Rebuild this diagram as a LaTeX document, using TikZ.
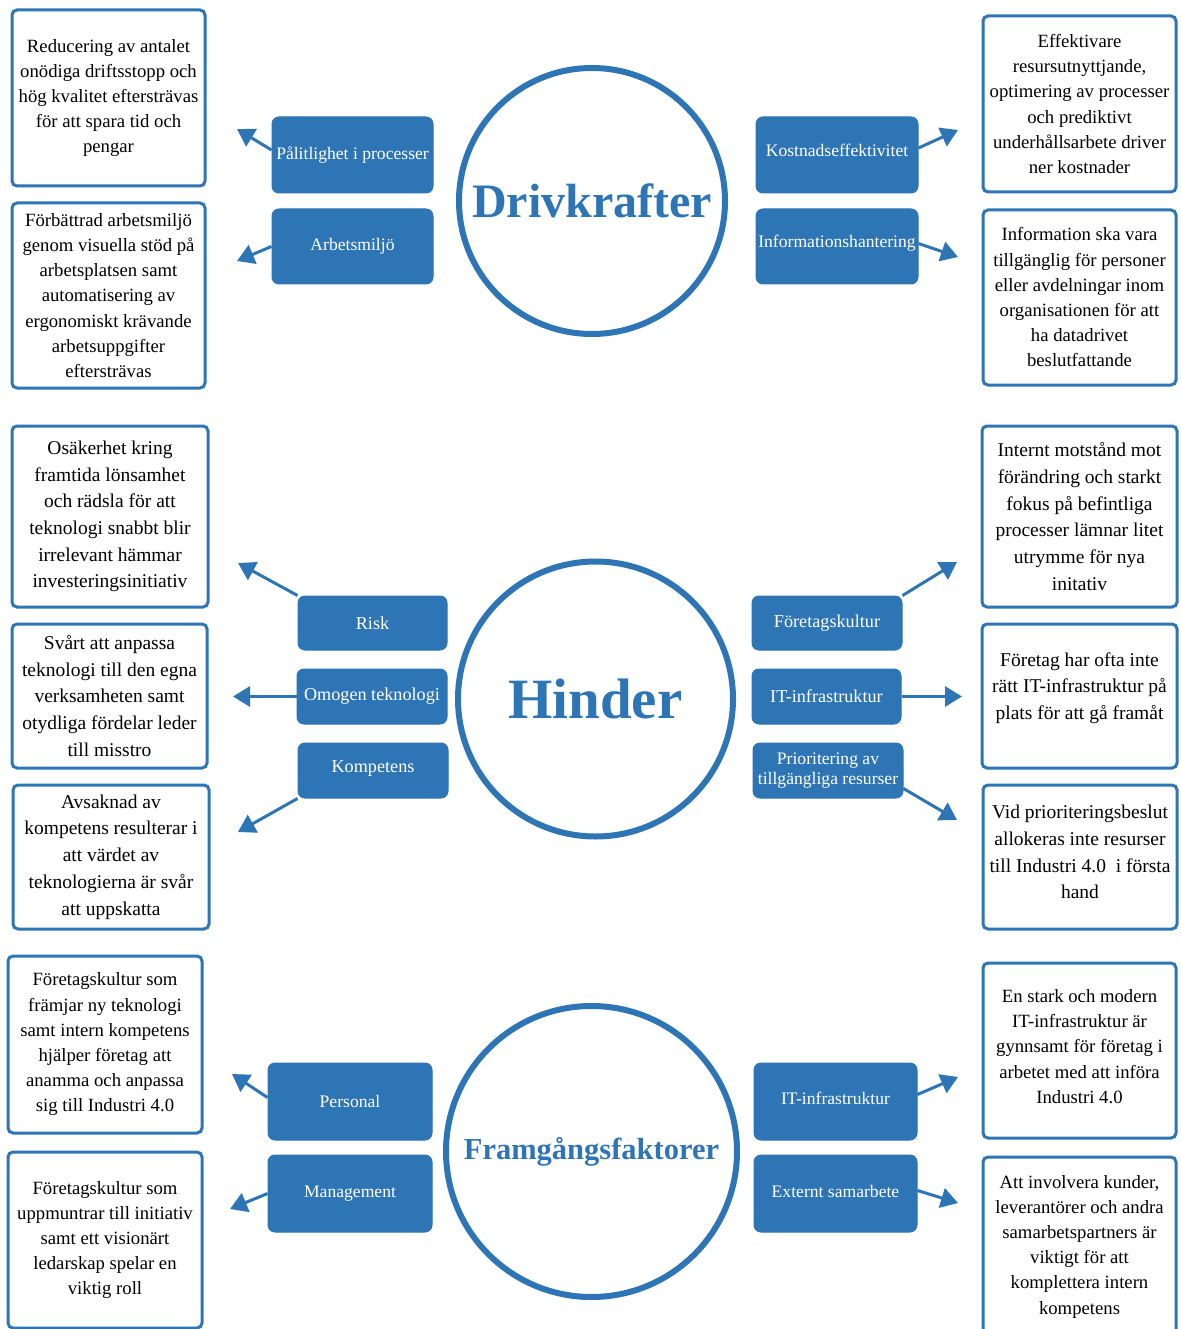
\documentclass[tikz,border=0pt]{standalone}
\usepackage{fontspec}
\setmainfont{Liberation Serif}
\usetikzlibrary{arrows.meta}
\definecolor{bl}{RGB}{46,117,182}
\tikzset{
  sz/.style 2 args={minimum width=#1pt, minimum height=#2pt},
  wbox/.style={draw=bl, line width=3pt, rounded corners=5pt, fill=white, align=center, inner sep=0pt, font=\fontsize{18.7pt}{25.2pt}\selectfont},
  wboxh/.style={wbox, font=\fontsize{19.5pt}{26.7pt}\selectfont},
  bbox/.style={fill=bl, draw=bl, line width=1pt, rounded corners=7pt, text=white, align=center, inner sep=0pt, font=\fontsize{17.6pt}{20pt}\selectfont},
  bboxh/.style={bbox, font=\fontsize{18.2pt}{20pt}\selectfont},
  hub/.style={circle, draw=bl, line width=6pt, text=bl, inner sep=0pt},
  arr/.style={draw=bl, line width=3pt, -{Triangle[length=17pt,width=20pt]}},
}
\begin{document}
\begin{tikzpicture}[x=1pt,y=-1pt]
\path[use as bounding box, fill=white] (0,0) rectangle (1180,1329);

% ---------------- Drivkrafter ----------------
\node[hub, minimum size=266pt, font=\fontsize{48pt}{50pt}\selectfont\bfseries] (drv) at (592,201) {Drivkrafter};

\node[wbox, sz={193}{176}] (d1) at (108.5,98) {Reducering av antalet\\onödiga driftsstopp och\\hög kvalitet eftersträvas\\för att spara tid och\\pengar};
\node[wbox, sz={193}{185}] (d2) at (108.5,295.5) {Förbättrad arbetsmiljö\\genom visuella stöd på\\arbetsplatsen samt\\automatisering av\\ergonomiskt krävande\\arbetsuppgifter\\eftersträvas};
\node[wbox, sz={193}{176}] (d3) at (1079.5,104) {Effektivare\\resursutnyttjande,\\optimering av processer\\och prediktivt\\underhållsarbete driver\\ner kostnader};
\node[wbox, sz={193}{175}] (d4) at (1079.5,297.5) {Information ska vara\\tillgänglig för personer\\eller avdelningar inom\\organisationen för att\\ha datadrivet\\beslutfattande};

\node[bbox, sz={161}{76}] (pal) at (352.5,155) {Pålitlighet i processer};
\node[bbox, sz={161}{75}] (arb) at (352.5,246.5) {Arbetsmiljö};
\node[bbox, sz={162}{76}, text depth=10pt] (kost) at (837,155) {Kostnadseffektivitet};
\node[bbox, sz={162}{75}, text depth=10pt] (info) at (837,246.5) {Informationshantering};

\coordinate (tpal) at (237,129);
\coordinate (tarb) at (237,261);
\coordinate (tkost) at (958,130);
\coordinate (tinfo) at (958,257);
\draw[arr] ([yshift=5pt]pal.west) -- (tpal);
\draw[arr] (arb.west) -- (tarb);
\draw[arr] ([yshift=7pt]kost.east) -- (tkost);
\draw[arr] ([yshift=3pt]info.east) -- (tinfo);

% ---------------- Hinder ----------------
\node[hub, minimum size=275pt, font=\fontsize{57pt}{60pt}\selectfont\bfseries] (hin) at (595.5,699) {Hinder};

\node[wboxh, sz={196}{181}] (h1) at (110,516.5) {Osäkerhet kring\\framtida lönsamhet\\och rädsla för att\\teknologi snabbt blir\\irrelevant hämmar\\investeringsinitiativ};
\node[wboxh, sz={195}{144}] (h2) at (109.5,696) {Svårt att anpassa\\teknologi till den egna\\verksamheten samt\\otydliga fördelar leder\\till misstro};
\node[wboxh, sz={196}{144}] (h3) at (111,857) {Avsaknad av\\kompetens resulterar i\\att värdet av\\teknologierna är svår\\att uppskatta};
\node[wboxh, sz={195}{181}] (h4) at (1079.5,516.5) {Internt motstånd mot\\förändring och starkt\\fokus på befintliga\\processer lämnar litet\\utrymme för nya\\initativ};
\node[wboxh, sz={195}{144}, text depth=20pt] (h5) at (1079.5,696) {Företag har ofta inte\\rätt IT-infrastruktur på\\plats för att gå framåt};
\node[wboxh, sz={194}{144}, text depth=10pt] (h6) at (1080,857) {Vid prioriteringsbeslut\\allokeras inte resurser\\till Industri 4.0\ \ i första\\hand};

\node[bboxh, sz={149}{54}] (risk) at (372.5,623) {Risk};
\node[bboxh, sz={150}{55}] (omog) at (372,696.5) {Omogen teknologi};
\node[bboxh, sz={150}{55}, text depth=8pt] (komp) at (373,770.5) {Kompetens};
\node[bboxh, sz={150}{54}] (fore) at (827,623) {Företagskultur};
\node[bboxh, sz={149}{55}] (itinf) at (826.5,696.5) {IT-infrastruktur};
\node[bboxh, sz={150}{55}, font=\fontsize{17.6pt}{20pt}\selectfont] (prio) at (828,770.5) {Prioritering av\\tillgängliga resurser};

\coordinate (trisk) at (238,563);
\coordinate (tomog) at (233,696.5);
\coordinate (tkomp) at (238,832);
\coordinate (tfore) at (957,562);
\coordinate (titinf) at (962,696.5);
\coordinate (tprio) at (957,820);
\draw[arr] (risk.north west) -- (trisk);
\draw[arr] (omog.west) -- (tomog);
\draw[arr] (komp.south west) -- (tkomp);
\draw[arr] (fore.north east) -- (tfore);
\draw[arr] (itinf.east) -- (titinf);
\draw[arr] ([yshift=10pt]prio.south east) -- (tprio);

% ---------------- Framgångsfaktorer ----------------
\node[hub, minimum size=291pt, font=\fontsize{30.5pt}{32pt}\selectfont\bfseries] (frm) at (591.5,1151.5) {Framgångsfaktorer};

\node[wbox, sz={194}{177}] (f1) at (105,1044.5) {Företagskultur som\\främjar ny teknologi\\samt intern kompetens\\hjälper företag att\\anamma och anpassa\\sig till Industri 4.0};
\node[wbox, sz={194}{176}] (f2) at (105,1240) {Företagskultur som\\uppmuntrar till initiativ\\samt ett visionärt\\ledarskap spelar en\\viktig roll};
\node[wbox, sz={193}{175}, text depth=8pt] (f3) at (1079.5,1050.5) {En stark och modern\\IT-infrastruktur är\\gynnsamt för företag i\\arbetet med att införa\\Industri 4.0};
\node[wbox, sz={193}{179}] (f4) at (1079.5,1246.5) {Att involvera kunder,\\leverantörer och andra\\samarbetspartners är\\viktigt för att\\komplettera intern\\kompetens};

\node[bbox, sz={164}{77}] (pers) at (350,1101.5) {Personal};
\node[bbox, sz={164}{77}] (mgmt) at (350,1193.5) {Management};
\node[bbox, sz={163}{77}, text depth=7pt] (it2) at (835.5,1101.5) {IT-infrastruktur};
\node[bbox, sz={163}{77}, text depth=5pt] (ext) at (835.5,1193.5) {Externt samarbete};

\coordinate (tpers) at (232,1074);
\coordinate (tmgmt) at (230,1209);
\coordinate (tit2) at (958,1077);
\coordinate (text2) at (958,1203);
\draw[arr] ([yshift=4pt]pers.west) -- (tpers);
\draw[arr] (mgmt.west) -- (tmgmt);
\draw[arr] ([yshift=7pt]it2.east) -- (tit2);
\draw[arr] ([yshift=3pt]ext.east) -- (text2);
\end{tikzpicture}
\end{document}
